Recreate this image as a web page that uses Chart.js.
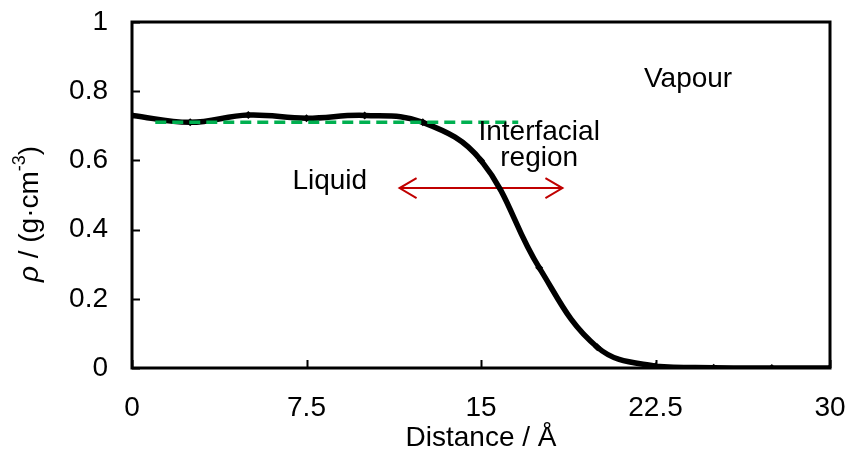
<!DOCTYPE html>
<html>
<head>
  <title>Density profile</title>
  <script src="https://cdn.jsdelivr.net/npm/chart.js"></script>
  <style>
    html, body { margin: 0; padding: 0; background: #fff; }
    #wrap { width: 850px; height: 455px; }
  </style>
</head>
<body>
  <div id="wrap"><canvas id="densityChart"></canvas></div>

  <script>
    // data
    var distance = [0, 2.5, 5, 7.5, 10, 12.5, 15, 17.5, 20, 22.5, 25, 27.5, 30];
    var density = [0.73, 0.71, 0.731, 0.722, 0.73, 0.71, 0.60, 0.29, 0.06, 0.005, 0.001, 0, 0];
    var bulkX = [1, 16.6];
    var bulkY = [0.71, 0.71];
    var arrowX = [11.5, 18.5];
    var arrowY = [0.52, 0.52];
    var xTicks = [0, 7.5, 15, 22.5, 30];
    var yTicks = [0, 0.2, 0.4, 0.6, 0.8, 1];
    var notes = [
      { text: "Vapour", x: 23.9, y: 0.835 },
      { text: "Liquid", x: 8.5, y: 0.54 },
      { text: "Interfacial", x: 17.5, y: 0.68 },
      { text: "region", x: 17.5, y: 0.607 }
    ];

    var font = "Liberation Sans, Arial, sans-serif";
    var fs = 28;

    function pairs(xs, ys) {
      var out = [];
      for (var i = 0; i < xs.length; i++) out.push({ x: xs[i], y: ys[i] });
      return out;
    }

    // inward tick marks, frame, arrow heads, notes and the y title
    var extras = {
      id: "extras",
      afterDatasetsDraw: function(chart) {
        var ctx = chart.ctx;
        var a = chart.chartArea;
        var xs = chart.scales.x, ys = chart.scales.y;
        ctx.save();
        ctx.strokeStyle = "#000";
        ctx.lineWidth = 2;
        ctx.beginPath();
        xTicks.forEach(function(t) {
          var px = Math.round(xs.getPixelForValue(t)) + 0.5;
          ctx.moveTo(px, a.bottom);
          ctx.lineTo(px, a.bottom - 8);
        });
        yTicks.forEach(function(t) {
          var py = Math.round(ys.getPixelForValue(t)) + 0.5;
          ctx.moveTo(a.left, py);
          ctx.lineTo(a.left + 8, py);
        });
        ctx.stroke();
        ctx.lineWidth = 3;
        ctx.strokeRect(a.left, a.top, a.right - a.left, a.bottom - a.top);

        // arrow heads
        var meta = chart.getDatasetMeta(2).data;
        var p0 = meta[0], p1 = meta[1];
        ctx.strokeStyle = "#C00000";
        ctx.lineWidth = 2;
        ctx.beginPath();
        ctx.moveTo(p0.x + 17, p0.y - 10);
        ctx.lineTo(p0.x, p0.y);
        ctx.lineTo(p0.x + 17, p0.y + 10);
        ctx.moveTo(p1.x - 17, p1.y - 10);
        ctx.lineTo(p1.x, p1.y);
        ctx.lineTo(p1.x - 17, p1.y + 10);
        ctx.stroke();

        // notes
        ctx.fillStyle = "#000";
        ctx.font = fs + "px " + font;
        ctx.textAlign = "center";
        ctx.textBaseline = "middle";
        notes.forEach(function(n) {
          ctx.fillText(n.text, xs.getPixelForValue(n.x), ys.getPixelForValue(n.y));
        });

        // y title: italic rho and superscript -3
        ctx.translate(30, 214);
        ctx.rotate(-Math.PI / 2);
        ctx.textAlign = "left";
        ctx.textBaseline = "middle";
        var parts = [
          { t: "\u03C1", f: "italic " + fs + "px " + font, dy: 0 },
          { t: " / (g\u00B7cm", f: fs + "px " + font, dy: 0 },
          { t: "-3", f: "18px " + font, dy: -10 },
          { t: ")", f: fs + "px " + font, dy: 0 }
        ];
        var w = 0;
        parts.forEach(function(p) { ctx.font = p.f; w += ctx.measureText(p.t).width; });
        var x = -w / 2;
        parts.forEach(function(p) {
          ctx.font = p.f;
          ctx.fillText(p.t, x, p.dy);
          x += ctx.measureText(p.t).width;
        });
        ctx.restore();
      }
    };

    new Chart("densityChart", {
      type: "scatter",
      data: {
        datasets: [{
          label: "density",
          data: pairs(distance, density),
          showLine: true,
          borderColor: "#000",
          backgroundColor: "#000",
          borderWidth: 5.5,
          tension: 0.4,
          pointStyle: "rectRot",
          pointRadius: 4,
          pointBorderWidth: 0,
          order: 2
        }, {
          label: "bulk",
          data: pairs(bulkX, bulkY),
          showLine: true,
          borderColor: "#00B050",
          borderWidth: 3.5,
          borderDash: [11, 6],
          pointRadius: 0,
          order: 1
        }, {
          label: "interface",
          data: pairs(arrowX, arrowY),
          showLine: true,
          borderColor: "#C00000",
          borderWidth: 2,
          pointRadius: 0,
          order: 3
        }]
      },
      options: {
        responsive: true,
        maintainAspectRatio: false,
        animation: false,
        layout: { padding: { top: 22, right: 20, left: 0, bottom: 0 } },
        plugins: { legend: { display: false }, tooltip: { enabled: false } },
        scales: {
          x: {
            type: "linear",
            min: 0,
            max: 30,
            afterBuildTicks: function(s) { s.ticks = xTicks.map(function(v) { return { value: v }; }); },
            afterFit: function(s) {
              s.height = 87;
              s.paddingLeft = 0;
              s.paddingRight = 0;
            },
            grid: { display: false, drawTicks: false },
            border: { display: false },
            ticks: {
              color: "#000",
              padding: 23,
              maxRotation: 0,
              font: { family: font, size: fs },
              callback: function(v) { return String(v); }
            },
            title: {
              display: true,
              text: "Distance / \u00C5",
              color: "#000",
              padding: { top: 0, bottom: 0 },
              font: { family: font, size: fs }
            }
          },
          y: {
            min: 0,
            max: 1,
            afterBuildTicks: function(s) { s.ticks = yTicks.map(function(v) { return { value: v }; }); },
            afterFit: function(s) {
              s.width = 132;
              s.paddingTop = 0;
              s.paddingBottom = 0;
            },
            grid: { display: false, drawTicks: false },
            border: { display: false },
            ticks: {
              color: "#000",
              padding: 24,
              font: { family: font, size: fs },
              callback: function(v) { return String(v); }
            }
          }
        }
      },
      plugins: [extras]
    });
  </script>
</body>
</html>
